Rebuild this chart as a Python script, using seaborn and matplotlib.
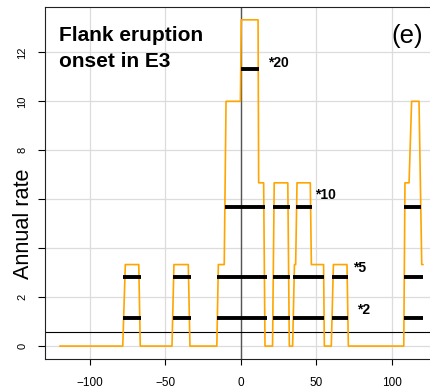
import matplotlib
matplotlib.use("Agg")
import matplotlib.pyplot as plt
import seaborn as sns
import pandas as pd

# Moving-window annual rate of flank eruption onsets (step profile vertices)
t = [-120, -78.3, -76.6, -67.7, -66.7,
     -45.7, -44.4, -34.9, -33.8,
     -16.0, -15.0, -11.1, -9.9, -0.4, 0.2, 11.3, 11.7, 15.0, 15.9,
     20.9, 22.0, 31.0, 32.0,
     34.2, 35.4, 36.2, 37.1, 45.9, 46.6, 54.7, 55.2,
     59.8, 61.2, 70.2, 71.1,
     107.8, 108.6, 111.3, 113.0, 117.9, 119.7, 120.6]
rate = [0, 0, 3.33, 3.33, 0,
        0, 3.33, 3.33, 0,
        0, 3.33, 3.33, 10, 10, 13.33, 13.33, 6.67, 6.67, 0,
        0, 6.67, 6.67, 0,
        0, 3.33, 3.33, 6.67, 6.67, 3.33, 3.33, 0,
        0, 3.33, 3.33, 0,
        0, 6.67, 6.67, 10, 10, 3.33, 3.33]

# Background rate and the multiples used to flag anomalous periods
base_rate = 0.567
multipliers = [2, 5, 10, 20]
labels = ["*2", "*5", "*10", "*20"]
periods = {
    2: [(-77.9, -66.4), (-45.2, -33.3), (-15.7, 17.0), (21.2, 32.2),
        (34.2, 55.2), (60.0, 71.1), (108.2, 120.8)],
    5: [(-77.9, -66.4), (-45.2, -33.3), (-15.7, 17.0), (21.2, 32.2),
        (34.2, 55.2), (60.0, 71.1), (108.2, 120.8)],
    10: [(-10.6, 16.1), (21.2, 32.2), (36.2, 46.8), (108.2, 119.5)],
    20: [(0.0, 11.9)],
}
label_x = [76.6, 74.0, 49.0, 17.9]
label_y = [1.31, 3.03, 5.99, 11.40]

x_ticks = [-100, -50, 0, 50, 100]
y_ticks = [0, 2, 4, 6, 8, 10, 12]
y_ticklabels = ["0", "2", "", "", "8", "10", "12"]

sns.set_theme(style="white")
plt.rcParams["font.family"] = ["Liberation Sans", "DejaVu Sans"]
plt.rcParams["text.color"] = "black"

fig = plt.figure(figsize=(4.31, 3.90), dpi=100)
ax = fig.add_axes([0.1051, 0.0792, 0.9081, 0.9036])

ax.set_xlim(-129.6, 129.6)
ax.set_ylim(-0.533, 13.866)

# light grid at tick positions
for xv in x_ticks:
    ax.axvline(xv, color="#dcdcdc", lw=0.9, zorder=0)
for yv in y_ticks:
    ax.axhline(yv, color="#dcdcdc", lw=0.9, zorder=0)

ax.axvline(0, color="#555555", lw=1.0, zorder=1)
ax.axhline(base_rate, color="black", lw=0.8, zorder=1)

df = pd.DataFrame({"t": t, "rate": rate})
sns.lineplot(data=df, x="t", y="rate", ax=ax, color="#FFA500", lw=1.2,
             sort=False, estimator=None, zorder=2)

for m, lab, lx, ly in zip(multipliers, labels, label_x, label_y):
    level = base_rate * m
    segs = periods[m]
    ax.hlines([level] * len(segs), [s[0] for s in segs], [s[1] for s in segs],
              color="black", lw=2.8, zorder=3)
    ax.text(lx, ly, lab, fontsize=10, fontweight="bold", ha="left",
            va="baseline", color="black", zorder=4)

ax.text(-120.3, 12.45, "Flank eruption", fontsize=15, fontweight="bold",
        ha="left", va="baseline", color="black")
ax.text(-120.3, 11.40, "onset in E3", fontsize=15, fontweight="bold",
        ha="left", va="baseline", color="black")
ax.text(99.8, 12.37, "(e)", fontsize=18.5, ha="left", va="baseline",
        color="black")

ax.set_xticks(x_ticks)
ax.set_xticklabels(["\u2212100", "\u221250", "0", "50", "100"])
ax.set_yticks(y_ticks)
ax.set_yticklabels(y_ticklabels, rotation=90, va="center")
ax.tick_params(axis="x", length=4, width=0.8, pad=9, labelsize=8.5,
               colors="black", bottom=True)
ax.tick_params(axis="y", length=5, width=0.8, pad=8, labelsize=8,
               colors="black", left=True)
ax.set_xlabel("")
ax.set_ylabel("")
for sp in ax.spines.values():
    sp.set_color("#222222")
    sp.set_linewidth(0.8)

fig.text(24 / 431, 1 - 223.8 / 390, "Annual rate", rotation=90,
         fontsize=15.6, ha="center", va="center", color="black")

fig.savefig("out.png", dpi=100)
